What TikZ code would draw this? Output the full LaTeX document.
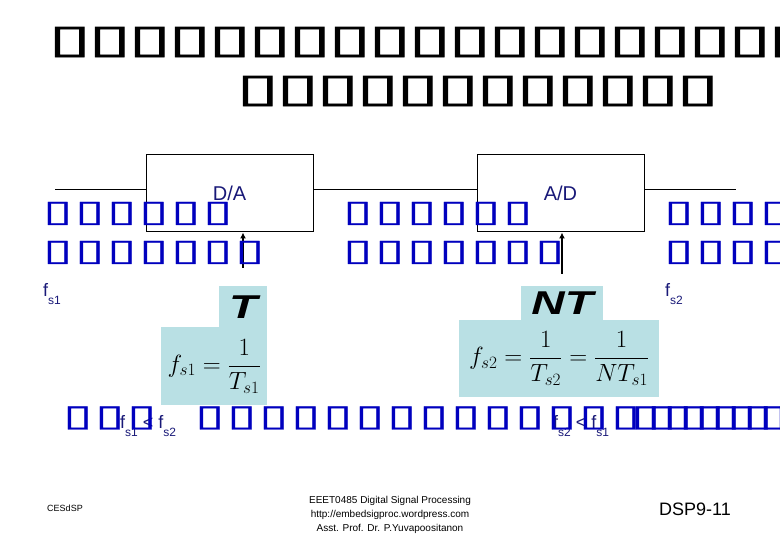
\documentclass[tikz,border=0pt]{standalone}
\usepackage{amsmath}
\usepackage{graphicx}
\usepackage{fontspec}
\setmainfont{Liberation Sans}
\newfontfamily\titleboxfont[RawFeature={embolden=1.4}]{DejaVu Sans}
\newfontfamily\boxfont[RawFeature={embolden=0.8}]{DejaVu Sans}
\usetikzlibrary{positioning,arrows.meta}

\definecolor{labelblue}{RGB}{25,25,120}
\definecolor{tofublue}{RGB}{0,0,190}
\definecolor{panelblue}{RGB}{185,224,228}

\newcommand\bigtofu{\makebox[40pt][l]{\resizebox*{43pt}{30pt}{\titleboxfont ▯}}}
\newcommand\smalltofu{\makebox[32pt][l]{\resizebox*{29pt}{23pt}{\boxfont ▯}}}
\newcommand\packedtofu{\makebox[16pt][l]{\resizebox*{29pt}{23pt}{\boxfont ▯}}}
\newcommand\fsub[1]{f\raisebox{-8pt}{\fontsize{12}{12}\selectfont #1}}

\begin{document}
\begin{tikzpicture}[x=1pt, y=-1pt,
  tofurow/.style={inner sep=0pt, anchor=west},
  blk/.style={draw, line width=1pt, minimum width=167pt, minimum height=77pt,
    text=labelblue, font=\fontsize{20}{20}\selectfont},
  panel/.style={fill=panelblue, inner sep=0pt, anchor=north west},
  wire/.style={line width=1pt},
  sig/.style={-{Latex[length=6pt,width=6pt]}, line width=1.6pt},
  fs/.style={text=labelblue, inner sep=0pt, anchor=west, font=\fontsize{18}{18}\selectfont},
  foot/.style={inner sep=0pt, align=center, font=\fontsize{10}{14}\selectfont}
]
  \useasboundingbox (0,0) rectangle (780,540);

  % title (unrendered glyphs)
  \node[tofurow] (titleA) at (48,42) {\foreach \k in {1,...,19}{\bigtofu}};
  \node[tofurow] (titleB) at (236,91) {\foreach \k in {1,...,12}{\bigtofu}};

  % converter chain
  \node[blk] (da) at (229.5,193.5) {D/A};
  \node[blk] (ad) at (560.5,193.5) {A/D};
  \coordinate (inend) at (55,190);
  \coordinate (outend) at (736,190);
  \draw[wire] (inend) -- (inend -| da.west);
  \draw[wire] (da.east |- inend) -- (ad.west |- inend);
  \draw[wire] (ad.east |- outend) -- (outend);

  \coordinate (clkA) at (243,268);
  \coordinate (clkB) at (562,274);
  \draw[sig] (clkA) -- (clkA |- da.south);
  \draw[sig] (clkB) -- (clkB |- ad.south);

  \node[tofurow, text=tofublue] (leftA) at (43,213.5) {\foreach \k in {1,...,6}{\smalltofu}};
  \node[tofurow, text=tofublue] (leftB) at (43,252.5) {\foreach \k in {1,...,7}{\smalltofu}};
  \node[tofurow, text=tofublue] (midA) at (343,213.5) {\foreach \k in {1,...,6}{\smalltofu}};
  \node[tofurow, text=tofublue] (midB) at (343,252.5) {\foreach \k in {1,...,7}{\smalltofu}};
  \node[tofurow, text=tofublue] (rightA) at (664,213.5) {\foreach \k in {1,...,4}{\smalltofu}};
  \node[tofurow, text=tofublue] (rightB) at (664,252.5) {\foreach \k in {1,...,4}{\smalltofu}};

  \node[fs] (fsone) at (43,294.5) {\fsub{s1}};
  \node[fs] (fstwo) at (665,294.5) {\fsub{s2}};

  % sampling formulas
  \node[panel, minimum width=48pt, minimum height=41pt] (tcap) at (219,286)
    {\fontsize{33}{33}\selectfont\bfseries\itshape\scalebox{1.4}[1]{T}};
  \node[panel, minimum width=106pt, minimum height=78pt] (fone) at (161,327)
    {\fontsize{25}{25}\selectfont $f_{s1}=\dfrac{1}{T_{s1}}$};
  \node[panel, minimum width=82pt, minimum height=34pt] (ntcap) at (521,286)
    {\fontsize{33}{33}\selectfont\bfseries\itshape\scalebox{1.4}[1]{NT}};
  \node[panel, minimum width=200pt, minimum height=77pt] (ftwo) at (459,320)
    {\fontsize{25}{25}\selectfont $f_{s2}=\dfrac{1}{T_{s2}}=\dfrac{1}{NT_{s1}}$};

  % bottom statement
  \node[fs] (relone) at (120,426) {\fsub{s1} < \fsub{s2}};
  \node[fs] (reltwo) at (553,426) {\fsub{s2} < \fsub{s1}};
  \node[tofurow, text=tofublue] (lowA) at (63,418) {\foreach \k in {1,...,3}{\smalltofu}};
  \node[tofurow, text=tofublue] (lowB) at (195,418) {\foreach \k in {1,...,13}{\smalltofu}};
  \node[tofurow, text=tofublue] (lowC) at (611,418)
    {\makebox[20pt][l]{\resizebox*{29pt}{23pt}{\boxfont ▯}}\foreach \k in {1,...,10}{\packedtofu}};

  % footer
  \node[foot, font=\fontsize{9}{9}\selectfont] (lab) at (65,508) {CESdSP};
  \node[foot] (course) at (390,515) {EEET0485 Digital Signal Processing\\
    http://embedsigproc.wordpress.com\\Asst. Prof. Dr. P.Yuvapoositanon};
  \node[foot, font=\fontsize{18}{18}\selectfont] (page) at (695,509) {DSP9-11};
\end{tikzpicture}
\end{document}
